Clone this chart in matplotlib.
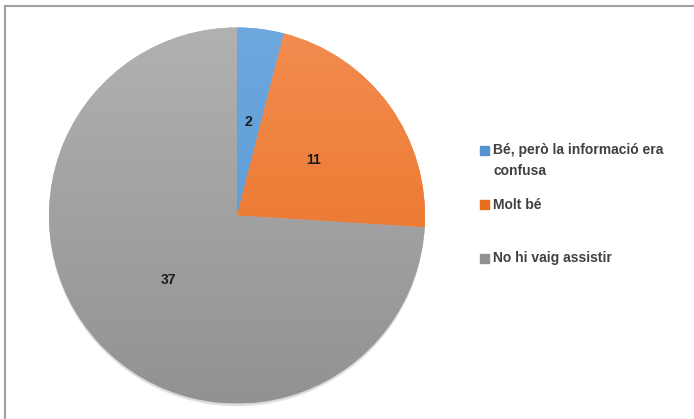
import numpy as np
import matplotlib.pyplot as plt
from matplotlib.patches import Rectangle, Circle
from matplotlib.colors import LinearSegmentedColormap

labels = ["Bé, però la informació era\nconfusa", "Molt bé", "No hi vaig assistir"]
values = [2, 11, 37]
top_colors = ["#6da8df", "#f28c50", "#b1b1b1"]
bottom_colors = ["#5594cf", "#e86d1c", "#929292"]

W, H = 694, 419
fig = plt.figure(figsize=(W / 100, H / 100), dpi=100)

# pie axes: centre (237, 215.5) px, radius 188 px
r = 188
lim = 1.04
cx, cy = 237, H - 215.5
ax = fig.add_axes([(cx - r * lim) / W, (cy - r * lim) / H,
                   2 * r * lim / W, 2 * r * lim / H])

# soft shadow under the pie
for i, a in enumerate([0.04, 0.05, 0.07]):
    ax.add_patch(Circle((0, -0.008 - 0.004 * i), 1.0, color="#000000",
                        alpha=a, lw=0, zorder=0))

wedges, texts, autotexts = ax.pie(
    values, startangle=90, counterclock=False, colors=top_colors,
    autopct=lambda p: "{:d}".format(int(round(p * sum(values) / 100))),
    pctdistance=0.5, radius=1.0,
    wedgeprops=dict(linewidth=0),
    textprops=dict(fontsize=10, fontweight="bold", color="#1a1a1a",
                   family="Liberation Sans"))

# vertical gradient fill clipped to each wedge
grad = np.linspace(1, 0, 256).reshape(-1, 1)
for w, c0, c1 in zip(wedges, top_colors, bottom_colors):
    cmap = LinearSegmentedColormap.from_list("g", [c1, c0])
    im = ax.imshow(grad, cmap=cmap, extent=[-1, 1, -1, 1], origin="upper",
                   aspect="auto", zorder=1, vmin=0, vmax=1)
    im.set_clip_path(w)
    w.set_zorder(0.9)
for t in autotexts:
    t.set_zorder(5)

ax.set_xlim(-lim, lim)
ax.set_ylim(-lim, lim)
ax.set_aspect("equal")
ax.axis("off")

# legend
leg_y = [150, 205, 258]
for lab, col, y in zip(labels, bottom_colors, leg_y):
    fig.patches.append(Rectangle((480 / W, (H - y - 4.5) / H), 9 / W, 9 / H,
                                 transform=fig.transFigure, color=col,
                                 figure=fig))
    fig.text(493 / W, (H - y) / H + (7 / H if "\n" in lab else 0), lab,
             fontsize=10, fontweight="bold", color="#404040",
             family="Liberation Sans",
             va="top" if "\n" in lab else "center", linespacing=1.6)

# frame lines (top and left)
fig.add_artist(plt.Line2D([4.5 / W, 1], [(H - 6) / H] * 2, color="#a0a0a0",
                          lw=1.5, transform=fig.transFigure))
fig.add_artist(plt.Line2D([4.5 / W] * 2, [0, (H - 6) / H], color="#a0a0a0",
                          lw=1.5, transform=fig.transFigure))

fig.savefig("out.png", dpi=100)
